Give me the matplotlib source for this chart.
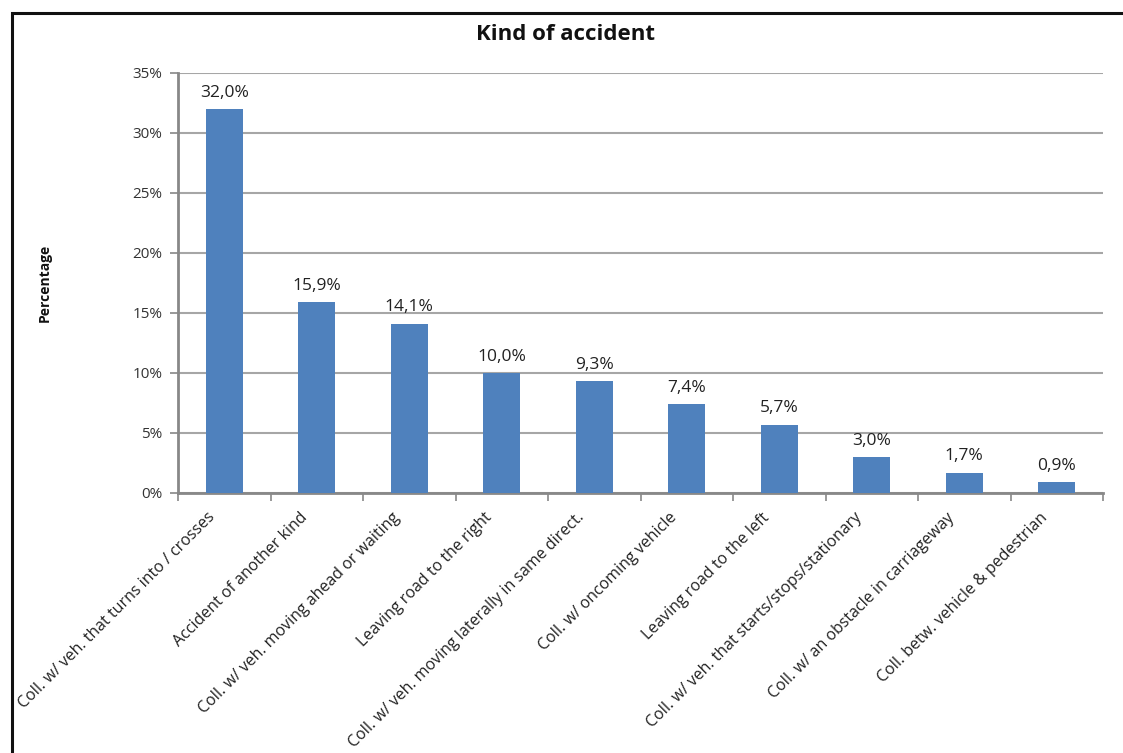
import matplotlib
matplotlib.use("Agg")
import matplotlib.pyplot as plt
from matplotlib.patches import Rectangle
from matplotlib.ticker import FuncFormatter, MultipleLocator
from matplotlib.transforms import ScaledTranslation

categories = [
    "Coll. w/ veh. that turns into / crosses",
    "Accident of another kind",
    "Coll. w/ veh. moving ahead or waiting",
    "Leaving road to the right",
    "Coll. w/ veh. moving laterally in same direct.",
    "Coll. w/ oncoming vehicle",
    "Leaving road to the left",
    "Coll. w/ veh. that starts/stops/stationary",
    "Coll. w/ an obstacle in carriageway",
    "Coll. betw. vehicle & pedestrian",
]
values = [32.0, 15.9, 14.1, 10.0, 9.3, 7.4, 5.7, 3.0, 1.7, 0.9]
value_labels = ["32,0%", "15,9%", "14,1%", "10,0%", "9,3%", "7,4%", "5,7%", "3,0%", "1,7%", "0,9%"]
title = "Kind of accident"
ylabel = "Percentage"

plt.rcParams['font.family'] = ['Open Sans', 'DejaVu Sans']

W, H = 1123, 753
fig = plt.figure(figsize=(W/100, H/100), dpi=100)
ax = fig.add_axes([178/W, 1-493/H, (1103-178)/W, (493-73)/H])

x = list(range(len(categories)))
ax.bar(x, values, width=0.4, color="#4F81BD", zorder=3)
for xi, v, lab in zip(x, values, value_labels):
    ax.annotate(lab, (xi, v), xytext=(0, 6), textcoords="offset points",
                ha="center", va="bottom", fontsize=12.5, color="#222222", zorder=4)

ax.set_xlim(-0.5, len(categories) - 0.5)
ax.set_ylim(0, 35)
ax.yaxis.set_major_locator(MultipleLocator(5))
ax.yaxis.set_major_formatter(FuncFormatter(lambda v, p: f"{int(round(v))}%"))
ax.grid(axis="y", color="#a6a6a6", linewidth=1.5, zorder=0)
ax.set_axisbelow(True)

ax.set_xticks([i + 0.5 for i in range(-1, len(categories))])
ax.set_xticklabels([])
ax.set_xticks(x, minor=True)
ax.set_xticklabels(categories, minor=True, rotation=45, ha="right", va="center",
                   rotation_mode="anchor", fontsize=11.5, color="#222222")
ax.tick_params(axis="x", which="minor", length=0, pad=16)
ax.tick_params(axis="x", which="major", length=6, color="#888888", width=1.2)
ax.tick_params(axis="y", length=6, color="#888888", width=1.2, labelsize=11,
               labelcolor="#333333", pad=5)
off = ScaledTranslation(-12/100, 0, fig.dpi_scale_trans)
for lab in ax.get_xticklabels(minor=True):
    lab.set_transform(lab.get_transform() + off)

for s in ["top", "right"]:
    ax.spines[s].set_visible(False)
for s in ["left", "bottom"]:
    ax.spines[s].set_color("#888888")
    ax.spines[s].set_linewidth(2)

fig.text(565/W, 1-35/H, title, ha="center", va="center", fontsize=16, fontweight="bold", color="#111111")
fig.text(45/W, 1-283/H, ylabel, ha="center", va="center", rotation=90, fontsize=10, fontweight="bold", color="#111111")

fig.patches.append(Rectangle((12/W, -0.1), 1.2, 1-13/H + 0.1, transform=fig.transFigure,
                             fill=False, edgecolor="#111111", linewidth=2.2))

fig.savefig("out.png", dpi=100)
